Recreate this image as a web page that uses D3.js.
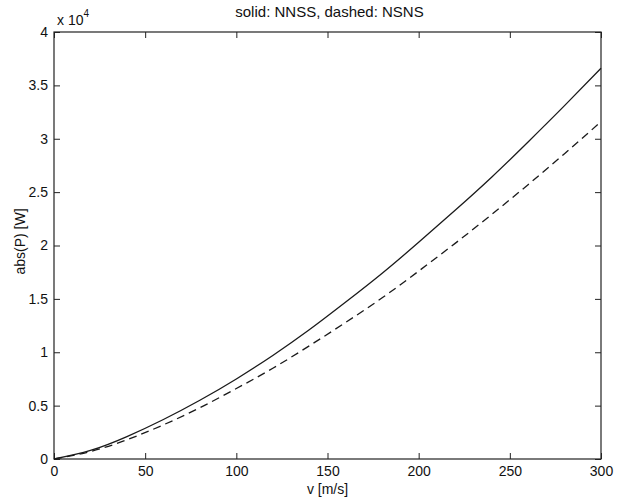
<!DOCTYPE html>
<html>
<head>
<meta charset="utf-8">
<script src="https://cdn.jsdelivr.net/npm/d3@7"></script>
<style>
  body { margin: 0; background: #fff; }
  text { font-family: "Liberation Sans", Arial, sans-serif; fill: #111; }
</style>
</head>
<body>
<div id="vis"></div>
<script>
const FRAME_WIDTH = 630;
const FRAME_HEIGHT = 498;
const MARGINS = { left: 54, right: 29, top: 32, bottom: 39 };
const VIS_WIDTH = FRAME_WIDTH - MARGINS.left - MARGINS.right;
const VIS_HEIGHT = FRAME_HEIGHT - MARGINS.top - MARGINS.bottom;

// speed v [m/s]
const SPEED = [0, 20, 40, 60, 80, 100, 120, 140, 160, 180, 200, 220, 240, 260, 280, 300];
// abs(P) in units of 1e4 W
const NNSS = [0, 0.08, 0.21, 0.37, 0.55, 0.75, 0.97, 1.21, 1.47, 1.74, 2.03, 2.33, 2.64, 2.97, 3.31, 3.66];
const NSNS = [0, 0.07, 0.18, 0.32, 0.48, 0.66, 0.85, 1.06, 1.28, 1.51, 1.76, 2.02, 2.29, 2.57, 2.86, 3.16];

const X_TICKS = [0, 50, 100, 150, 200, 250, 300];
const Y_TICKS = [0, 0.5, 1, 1.5, 2, 2.5, 3, 3.5, 4];

const FRAME = d3.select('#vis')
  .append('svg')
  .attr('width', FRAME_WIDTH)
  .attr('height', FRAME_HEIGHT);

const X_SCALE = d3.scaleLinear().domain([0, 300]).range([0, VIS_WIDTH]);
const Y_SCALE = d3.scaleLinear().domain([0, 4]).range([VIS_HEIGHT, 0]);

const g = FRAME.append('g')
  .attr('transform', `translate(${MARGINS.left},${MARGINS.top})`);

// box
g.append('rect')
  .attr('width', VIS_WIDTH)
  .attr('height', VIS_HEIGHT)
  .attr('fill', 'none')
  .attr('stroke', '#222')
  .attr('stroke-width', 1.2);

// axes, ticks pointing inwards like matlab
const styleAxis = (sel) => {
  sel.select('.domain').remove();
  sel.selectAll('line').attr('stroke', '#222').attr('stroke-width', 1);
  sel.selectAll('text')
    .attr('font-size', 14)
    .attr('fill', '#111')
    .style('font-family', '"Liberation Sans", Arial, sans-serif');
};

g.append('g')
  .attr('transform', `translate(0,${VIS_HEIGHT})`)
  .call(d3.axisBottom(X_SCALE).tickValues(X_TICKS).tickSize(-6).tickPadding(7))
  .call(styleAxis);

g.append('g')
  .call(d3.axisTop(X_SCALE).tickValues(X_TICKS).tickSize(-6).tickFormat(''))
  .call(styleAxis);

g.append('g')
  .call(d3.axisLeft(Y_SCALE).tickValues(Y_TICKS).tickSize(-6).tickPadding(6).tickFormat(d3.format('~g')))
  .call(styleAxis);

g.append('g')
  .attr('transform', `translate(${VIS_WIDTH},0)`)
  .call(d3.axisRight(Y_SCALE).tickValues(Y_TICKS).tickSize(-6).tickFormat(''))
  .call(styleAxis);

// curves
const line = (vals) => d3.line()
  .x((d, i) => X_SCALE(SPEED[i]))
  .y((d) => Y_SCALE(d))
  .curve(d3.curveNatural)(vals);

g.append('path')
  .attr('d', line(NNSS))
  .attr('fill', 'none')
  .attr('stroke', '#1a1a1a')
  .attr('stroke-width', 1.3);

g.append('path')
  .attr('d', line(NSNS))
  .attr('fill', 'none')
  .attr('stroke', '#1a1a1a')
  .attr('stroke-width', 1.3)
  .attr('stroke-dasharray', '8,5');

// texts
FRAME.append('text')
  .attr('x', MARGINS.left + VIS_WIDTH / 2 + 2)
  .attr('y', 17)
  .attr('text-anchor', 'middle')
  .attr('font-size', 15)
  .text('solid: NNSS, dashed: NSNS');

FRAME.append('text')
  .attr('x', MARGINS.left + VIS_WIDTH / 2)
  .attr('y', 494)
  .attr('text-anchor', 'middle')
  .attr('font-size', 14)
  .text('v [m/s]');

FRAME.append('text')
  .attr('transform', `translate(25,${MARGINS.top + VIS_HEIGHT / 2 - 4}) rotate(-90)`)
  .attr('text-anchor', 'middle')
  .attr('font-size', 14)
  .text('abs(P) [W]');

const mult = FRAME.append('text')
  .attr('x', 57)
  .attr('y', 25)
  .attr('font-size', 14)
  .text('x 10');
mult.append('tspan')
  .attr('dy', -8)
  .attr('font-size', 10)
  .text('4');
</script>
</body>
</html>
